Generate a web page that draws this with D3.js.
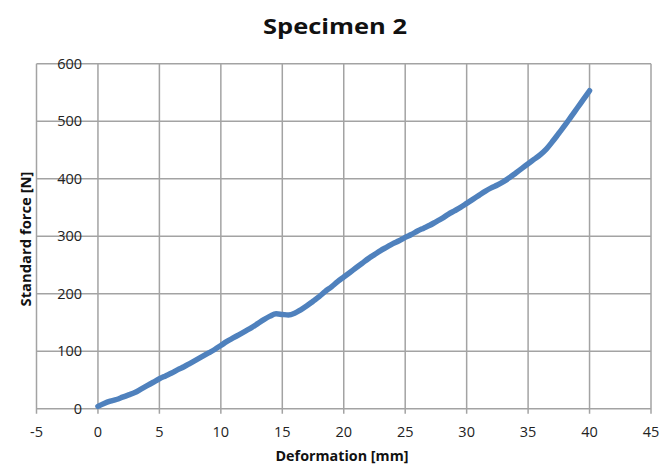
<!DOCTYPE html>
<html>
<head>
<meta charset="utf-8">
<script src="https://cdn.jsdelivr.net/npm/d3@7"></script>
<style>
  html, body { margin: 0; padding: 0; background: #fff; }
  svg { display: block; }
</style>
</head>
<body>
<svg id="chart" width="662" height="467"></svg>
<script>
const title = "Specimen 2";
const xLabel = "Deformation [mm]";
const yLabel = "Standard force [N]";
const xTicks = [-5, 0, 5, 10, 15, 20, 25, 30, 35, 40, 45];
const yTicks = [0, 100, 200, 300, 400, 500, 600];
const deformation = [0,0.5,1,1.5,2,2.5,3,3.5,4,4.5,5,5.5,6,6.5,7,7.5,8,8.5,9,9.5,10,10.5,11,11.5,12,12.5,13,13.5,14,14.5,15,15.5,16,16.5,17,17.5,18,18.5,19,19.5,20,20.5,21,21.5,22,22.5,23,23.5,24,24.5,25,25.5,26,26.5,27,27.5,28,28.5,29,29.5,30,30.5,31,31.5,32,32.5,33,33.5,34,34.5,35,35.5,36,36.5,37,37.5,38,38.5,39,39.5,40];
const force = [4,9,13,16,20,24,28,34,40,46,52,57,62,68,73,79,85,91,97,103,110,117,123,129,135,141,148,155,161,165,164,163,166,172,179,187,195,204,212,221,229,237,245,253,261,268,275,281,287,292,298,303,309,314,319,325,331,338,344,350,357,364,371,378,384,389,395,402,410,418,426,434,442,452,465,479,493,508,523,538,553];

const svg = d3.select("#chart");
const pL = 36.5, pR = 651, pT = 63.7, pB = 408.7;
const x = d3.scaleLinear().domain([-5, 45]).range([pL, pR]);
const y = d3.scaleLinear().domain([0, 600]).range([pB, pT]);
const grid = "#a3a3a3";

// gridlines
svg.append("g").selectAll("line").data(xTicks).enter().append("line")
  .attr("x1", d => x(d)).attr("x2", d => x(d))
  .attr("y1", pT).attr("y2", pB + 5)
  .attr("stroke", grid).attr("stroke-width", 1.5);
svg.append("g").selectAll("line").data(yTicks).enter().append("line")
  .attr("x1", pL).attr("x2", pR)
  .attr("y1", d => y(d)).attr("y2", d => y(d))
  .attr("stroke", grid).attr("stroke-width", 1.5);

// tick labels
const font = "'Open Sans', sans-serif";
svg.append("g").selectAll("text").data(xTicks).enter().append("text")
  .attr("x", d => x(d)).attr("y", 437)
  .attr("text-anchor", "middle")
  .attr("font-family", font).attr("font-size", 14.5).attr("fill", "#222")
  .text(d => d);
svg.append("g").selectAll("text").data(yTicks).enter().append("text")
  .attr("x", 82).attr("y", d => y(d) + 5)
  .attr("text-anchor", "end")
  .attr("font-family", font).attr("font-size", 14.5).attr("fill", "#222")
  .text(d => d);

// data line
const pts = deformation.map((d, i) => [d, force[i]]);
const line = d3.line().x(d => x(d[0])).y(d => y(d[1])).curve(d3.curveMonotoneX);
svg.append("path").datum(pts)
  .attr("d", line)
  .attr("fill", "none").attr("stroke", "#4f81bd")
  .attr("stroke-width", 5.5).attr("stroke-linejoin", "round").attr("stroke-linecap", "round");

// title & axis labels
svg.append("text").attr("x", 335).attr("y", 34)
  .attr("text-anchor", "middle")
  .attr("font-family", font).attr("font-weight", "bold").attr("font-size", 22)
  .attr("textLength", 144).attr("lengthAdjust", "spacingAndGlyphs")
  .attr("fill", "#111").text(title);
svg.append("text").attr("x", 342).attr("y", 461)
  .attr("text-anchor", "middle")
  .attr("font-family", font).attr("font-weight", "bold").attr("font-size", 15)
  .attr("textLength", 133).attr("lengthAdjust", "spacingAndGlyphs")
  .attr("fill", "#111").text(xLabel);
svg.append("text").attr("transform", "translate(31,239) rotate(-90)")
  .attr("text-anchor", "middle")
  .attr("font-family", font).attr("font-weight", "bold").attr("font-size", 14)
  .attr("textLength", 135).attr("lengthAdjust", "spacingAndGlyphs")
  .attr("fill", "#111").text(yLabel);
</script>
</body>
</html>
